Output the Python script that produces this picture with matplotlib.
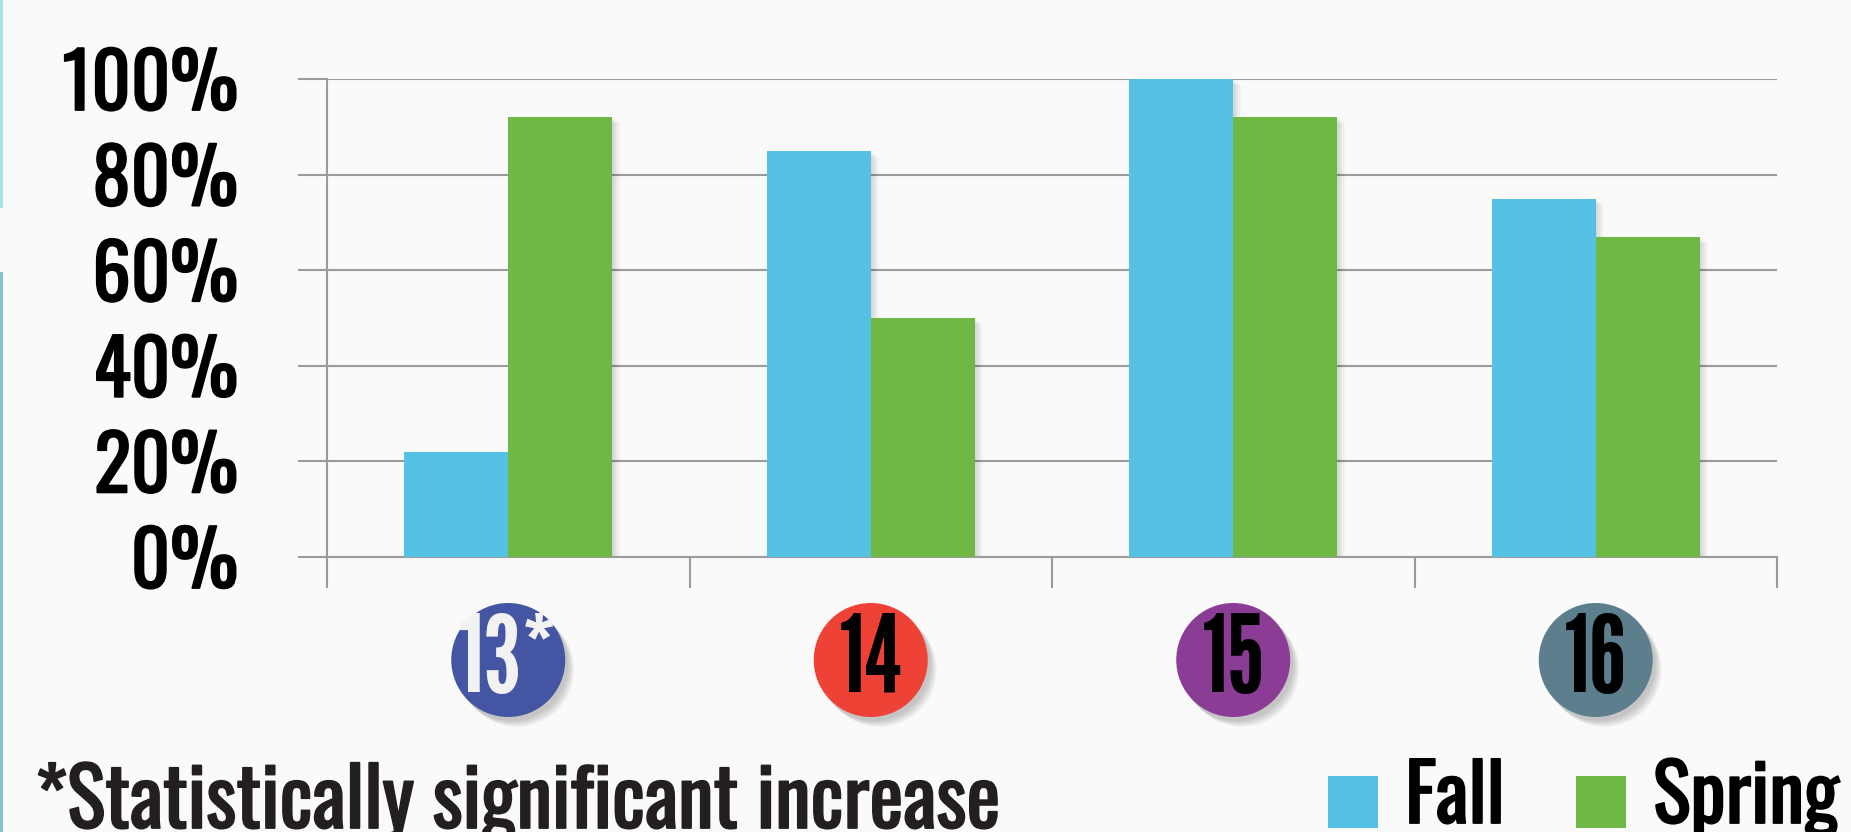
import matplotlib
matplotlib.use("Agg")
import matplotlib.pyplot as plt
import matplotlib.transforms as mtransforms
import matplotlib.patheffects as pe
from matplotlib.patches import Ellipse, Rectangle
import numpy as np

# Data
grades = ["13*", "14", "15", "16"]
fall = [22, 85, 100, 75]
spring = [92, 50, 92, 67]
yticks = [0, 20, 40, 60, 80, 100]
ytick_labels = ["0%", "20%", "40%", "60%", "80%", "100%"]
badge_colors = ["#4355a3", "#ee4236", "#8b3d96", "#5c7e8d"]
badge_text_colors = ["#f2f2f2", "black", "black", "black"]

FONT = ["Oswald", "League Gothic", "DejaVu Sans"]
BADGE_FONT = ["League Gothic", "Oswald", "DejaVu Sans"]
FALL_C = "#55c2e4"
SPRING_C = "#70b844"
GRID_C = "#9b9b9b"
BG = "#fafafa"


def heavy(color):
    # thicken the regular-weight font a little
    return [pe.withStroke(linewidth=1.3, foreground=color)]


W, H = 1851, 832
fig = plt.figure(figsize=(W / 100, H / 100), dpi=100, facecolor=BG)
ax = fig.add_axes([327 / W, 1 - 557 / H, 1450 / W, 478 / H], facecolor=BG)

x = np.arange(len(grades))
bw = 0.287
px = 4 / 1450  # one pixel in x data units
py = 100 / 478  # one pixel in y data units

# soft drop shadows to the right of the bars
for k in range(1, 7):
    for vals, off in ((fall, -bw / 2), (spring, bw / 2)):
        h = np.array(vals) - k * py
        ax.bar(x + off + k * 1.3 * px, h, bw, color="black", alpha=0.025,
               linewidth=0, zorder=2)

ax.bar(x - bw / 2, fall, bw, color=FALL_C, linewidth=0, zorder=3)
ax.bar(x + bw / 2, spring, bw, color=SPRING_C, linewidth=0, zorder=3)

ax.set_xlim(-0.5, 3.5)
ax.set_ylim(0, 100)
ax.set_yticks(yticks)
ax.set_yticklabels(ytick_labels, family=FONT, fontsize=55, color="black")
for t in ax.get_yticklabels():
    t.set_path_effects(heavy("black"))
ax.yaxis.grid(True, color=GRID_C, linewidth=1.5, zorder=1)
ax.set_axisbelow(True)
ax.tick_params(axis="y", length=21, width=1.5, color=GRID_C, pad=43)

ax.set_xticks(np.arange(-0.5, 4, 1))
ax.set_xticklabels([])
ax.tick_params(axis="x", length=22, width=1.5, color=GRID_C)

for s in ["top", "right"]:
    ax.spines[s].set_visible(False)
for s in ["left", "bottom"]:
    ax.spines[s].set_color(GRID_C)
    ax.spines[s].set_linewidth(1.5)

# round grade badges under each group
trans = mtransforms.blended_transform_factory(ax.transData, fig.transFigure)
cy = 1 - 660 / H
dw = 114 * px
dh = 114 / H
for i, g in enumerate(grades):
    for k in range(1, 8):
        fig.add_artist(Ellipse((i + (2 + k) * px, cy - (3 + k) / H), dw, dh,
                               transform=trans, color="black", alpha=0.03,
                               linewidth=0, clip_on=False))
    fig.add_artist(Ellipse((i, cy), dw, dh, transform=trans,
                           color=badge_colors[i], linewidth=0, clip_on=False))
    fig.text(i, cy - 2 / H, g, transform=trans, ha="center", va="center",
             family=BADGE_FONT, fontsize=78, color=badge_text_colors[i],
             zorder=5)

# legend
for x0, tx, c, lab in ((1328, 1405, FALL_C, "Fall"), (1576, 1653, SPRING_C, "Spring")):
    fig.add_artist(Rectangle((x0 / W, 1 - 828 / H), 50 / W, 52 / H,
                             transform=fig.transFigure, color=c, linewidth=0))
    fig.text(tx / W, 1 - 823 / H, lab, family=FONT, fontsize=57,
             color="black", va="baseline", ha="left",
             path_effects=heavy("black"))

fig.text(35 / W, 1 - 828 / H, "*Statistically significant increase",
         family=FONT, fontsize=58, color="#231f20", va="baseline", ha="left",
         path_effects=heavy("#231f20"))

# thin coloured strip on the left edge
fig.add_artist(Rectangle((0, 1 - 208 / H), 3 / W, 208 / H,
                         transform=fig.transFigure, color="#a7e1ea", linewidth=0))
fig.add_artist(Rectangle((0, 0), 3 / W, 1 - 272 / H,
                         transform=fig.transFigure, color="#84c3cb", linewidth=0))

fig.savefig("out.png", dpi=100, facecolor=BG)
